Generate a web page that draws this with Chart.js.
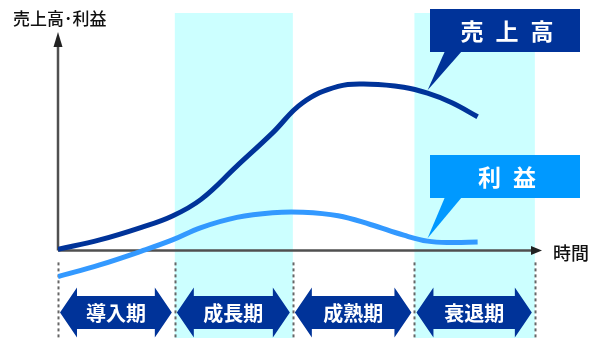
<!DOCTYPE html>
<html>
<head>
<meta charset="utf-8">
<script src="https://cdn.jsdelivr.net/npm/chart.js@4"></script>
<style>
body { margin: 0; background: #fff; }
#wrap { width: 592px; height: 338px; }
</style>
</head>
<body>
<div id="wrap"><canvas id="lifeCycle" width="592" height="338"></canvas></div>
<script>
// 時間 (phase units: 1 = one phase)
var timePoints = [0, 0.35, 0.7, 0.96, 1.2, 1.5, 1.8, 2.05, 2.35, 2.62, 2.9, 3.1, 3.3, 3.52];
// 売上高
var salesValues = [0.5, 4.4, 9.7, 14.5, 21.5, 35.5, 49.5, 62.1, 69.1, 70.0, 68.7, 66.2, 62.3, 56.3];
// 利益
var profitValues = [-11.0, -6.1, -0.3, 4.4, 9.6, 13.9, 15.9, 16.1, 14.6, 10.9, 6.4, 3.9, 3.3, 3.5];

var phaseNames = ['導入期', '成長期', '成熟期', '衰退期'];
var phaseEdges = [0, 0.98, 1.97, 2.99, 4.0];
var yTitle = '売上高･利益';
var xTitle = '時間';

var NAVY = '#003399';
var SKY = '#3399ff';
var JP = '"Noto Sans CJK JP", "Noto Sans", sans-serif';

function toPoints(values) {
	var pts = [];
	for (var i = 0; i < timePoints.length; i++) {
		pts.push({ x: timePoints[i], y: values[i] });
	}
	return pts;
}

// 両矢印
function doubleArrow(ctx, l, r, cy) {
	var body = 16.5, head = 25, len = 17;
	ctx.beginPath();
	ctx.moveTo(l, cy);
	ctx.lineTo(l + len, cy - head);
	ctx.lineTo(l + len, cy - body);
	ctx.lineTo(r - len, cy - body);
	ctx.lineTo(r - len, cy - head);
	ctx.lineTo(r, cy);
	ctx.lineTo(r - len, cy + head);
	ctx.lineTo(r - len, cy + body);
	ctx.lineTo(l + len, cy + body);
	ctx.lineTo(l + len, cy + head);
	ctx.closePath();
	ctx.fill();
}

function spacedText(ctx, text, cx, cy, gap) {
	var chars = text.split('');
	var widths = chars.map(function(c) { return ctx.measureText(c).width; });
	var total = widths.reduce(function(a, b) { return a + b; }, 0) + gap * (chars.length - 1);
	var x = cx - total / 2;
	ctx.textAlign = 'left';
	for (var i = 0; i < chars.length; i++) {
		ctx.fillText(chars[i], x, cy);
		x += widths[i] + gap;
	}
}

// 吹き出し
function callout(ctx, box, tipX, tipY, color, text) {
	ctx.fillStyle = color;
	ctx.fillRect(box.x, box.y, box.w, box.h);
	ctx.beginPath();
	ctx.moveTo(box.x + 15, box.y + box.h - 1);
	ctx.lineTo(box.x + 32, box.y + box.h - 1);
	ctx.lineTo(tipX, tipY);
	ctx.closePath();
	ctx.fill();
	ctx.fillStyle = '#fff';
	ctx.font = 'bold 23px ' + JP;
	ctx.textBaseline = 'middle';
	spacedText(ctx, text, box.x + 77, box.y + box.h / 2 + 1, 12);
}

var backdropPlugin = {
	id: 'backdrop',
	beforeDatasetsDraw: function(chart) {
		var ctx = chart.ctx, xs = chart.scales.x, ys = chart.scales.y;
		var top = chart.chartArea.top;
		var y0 = ys.getPixelForValue(0);
		var x0 = xs.getPixelForValue(0);
		ctx.save();

		// 成長期・衰退期の背景
		ctx.fillStyle = '#ccffff';
		[1, 3].forEach(function(i) {
			var l = xs.getPixelForValue(phaseEdges[i]);
			var r = xs.getPixelForValue(phaseEdges[i + 1]);
			ctx.fillRect(l, top, r - l, chart.height - top);
		});

		// 区切りの点線
		ctx.strokeStyle = '#666';
		ctx.lineWidth = 2;
		ctx.setLineDash([3, 3]);
		phaseEdges.forEach(function(e) {
			var x = Math.round(xs.getPixelForValue(e)) + 0.5;
			ctx.beginPath();
			ctx.moveTo(x, y0 + 12);
			ctx.lineTo(x, chart.height);
			ctx.stroke();
		});
		ctx.setLineDash([]);

		// 軸
		var yTip = ys.getPixelForValue(92);
		var xTip = xs.getPixelForValue(xs.max);
		ctx.strokeStyle = '#505050';
		ctx.fillStyle = '#222';
		ctx.lineWidth = 2.5;
		ctx.beginPath();
		ctx.moveTo(x0, y0);
		ctx.lineTo(x0, yTip + 10);
		ctx.moveTo(x0, y0);
		ctx.lineTo(xTip - 10, y0);
		ctx.stroke();
		ctx.beginPath();
		ctx.moveTo(x0, yTip);
		ctx.lineTo(x0 - 4.5, yTip + 15);
		ctx.lineTo(x0 + 4.5, yTip + 15);
		ctx.closePath();
		ctx.fill();
		ctx.beginPath();
		ctx.moveTo(xTip, y0);
		ctx.lineTo(xTip - 11, y0 - 4.5);
		ctx.lineTo(xTip - 11, y0 + 4.5);
		ctx.closePath();
		ctx.fill();

		// 軸ラベル
		ctx.fillStyle = '#111';
		ctx.font = '500 17px ' + JP;
		ctx.textBaseline = 'middle';
		ctx.textAlign = 'left';
		ctx.fillText(yTitle, 13, 19);
		ctx.font = '500 18px ' + JP;
		ctx.fillText(xTitle, 553, y0 + 3);
		ctx.restore();
	},
	afterDatasetsDraw: function(chart) {
		var ctx = chart.ctx, xs = chart.scales.x, ys = chart.scales.y;
		var y0 = ys.getPixelForValue(0);
		ctx.save();

		// 期間ラベル
		for (var i = 0; i < phaseNames.length; i++) {
			var l = xs.getPixelForValue(phaseEdges[i]) + 2;
			var r = xs.getPixelForValue(phaseEdges[i + 1]) - 3;
			var cy = y0 + 62;
			ctx.fillStyle = NAVY;
			doubleArrow(ctx, l, r, cy);
			ctx.fillStyle = '#fff';
			ctx.font = 'bold 20px ' + JP;
			ctx.textAlign = 'center';
			ctx.textBaseline = 'middle';
			ctx.fillText(phaseNames[i], (l + r) / 2, cy + 1);
		}

		// 吹き出し
		var k = 11;
		var sets = chart.data.datasets;
		callout(ctx, { x: 430, y: 9, w: 150, h: 43 },
			xs.getPixelForValue(timePoints[k]), ys.getPixelForValue(salesValues[k]) - 3,
			NAVY, sets[0].label);
		callout(ctx, { x: 430, y: 155, w: 150, h: 43 },
			xs.getPixelForValue(timePoints[k]), ys.getPixelForValue(profitValues[k]) - 3,
			'#0099ff', sets[1].label);
		ctx.restore();
	}
};

var ctx1 = document.getElementById('lifeCycle').getContext('2d');
window.lifeChart = new Chart(ctx1, {
	type: 'line',
	data: {
		datasets: [{
			label: '売上高',
			data: toPoints(salesValues),
			borderColor: NAVY,
			borderWidth: 5,
			pointRadius: 0,
			tension: 0.4,
			borderCapStyle: 'butt',
			fill: false
		}, {
			label: '利益',
			data: toPoints(profitValues),
			borderColor: SKY,
			borderWidth: 5,
			pointRadius: 0,
			tension: 0.4,
			borderCapStyle: 'butt',
			fill: false
		}]
	},
	options: {
		responsive: false,
		animation: false,
		layout: { padding: { left: 58, right: 50, top: 13, bottom: 52 } },
		scales: {
			x: { type: 'linear', min: 0, max: 4.06, display: false },
			y: { min: -15, max: 100, display: false }
		},
		plugins: {
			legend: { display: false },
			tooltip: { enabled: false }
		}
	},
	plugins: [backdropPlugin]
});
</script>
</body>
</html>
